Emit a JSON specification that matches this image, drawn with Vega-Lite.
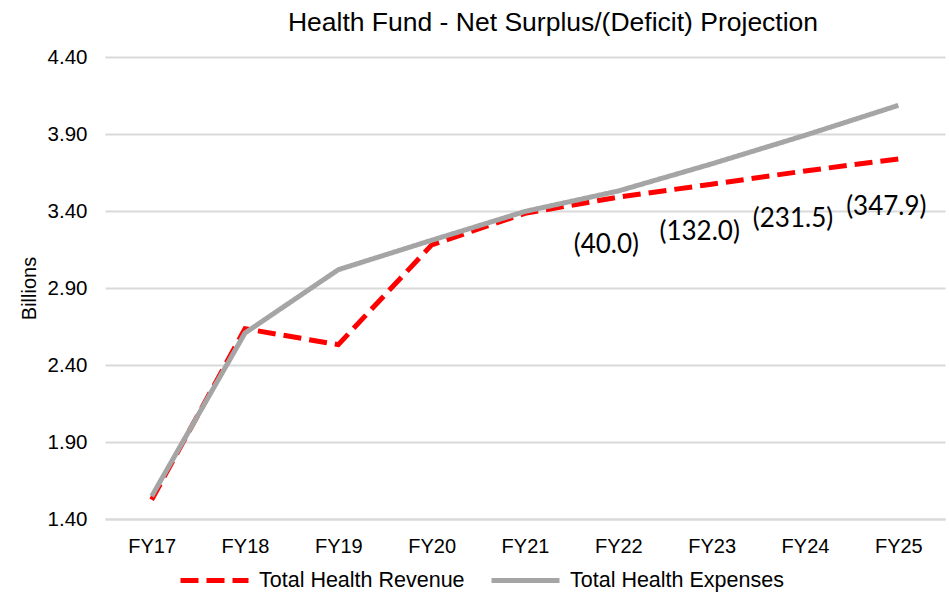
{
  "$schema": "https://vega.github.io/schema/vega-lite/v6.json",
  "width": 840,
  "height": 462,
  "autosize": {"type": "none"},
  "padding": {"left": 105, "top": 57, "right": 4, "bottom": 76},
  "background": "white",
  "config": {"font": "Liberation Sans", "view": {"stroke": null}},
  "title": {
    "text": "Health Fund - Net Surplus/(Deficit) Projection",
    "fontSize": 26.5,
    "fontWeight": "normal",
    "color": "#000000",
    "anchor": "middle",
    "frame": "group",
    "dx": 28,
    "baseline": "alphabetic",
    "offset": -10
  },
  "data": {
    "values": [
      {"year": "FY17", "Total Health Revenue": 1.525, "Total Health Expenses": 1.547, "net": null},
      {"year": "FY18", "Total Health Revenue": 2.636, "Total Health Expenses": 2.608, "net": null},
      {"year": "FY19", "Total Health Revenue": 2.532, "Total Health Expenses": 3.019, "net": null},
      {"year": "FY20", "Total Health Revenue": 3.18, "Total Health Expenses": 3.21, "net": null},
      {"year": "FY21", "Total Health Revenue": 3.385, "Total Health Expenses": 3.397, "net": null},
      {"year": "FY22", "Total Health Revenue": 3.49, "Total Health Expenses": 3.53, "net": -40.0},
      {"year": "FY23", "Total Health Revenue": 3.574, "Total Health Expenses": 3.706, "net": -132.0},
      {"year": "FY24", "Total Health Revenue": 3.66, "Total Health Expenses": 3.8915, "net": -231.5},
      {"year": "FY25", "Total Health Revenue": 3.738, "Total Health Expenses": 4.0859, "net": -347.9}
    ]
  },
  "encoding": {
    "x": {
      "field": "year",
      "type": "ordinal",
      "scale": {"type": "point", "padding": 0.5},
      "axis": {
        "title": null,
        "labelAngle": 0,
        "labelFontSize": 20,
        "labelColor": "#000000",
        "labelPadding": 17,
        "ticks": false,
        "tickSize": 0,
        "domain": true,
        "domainColor": "#D9D9D9",
        "domainWidth": 2,
        "grid": false
      }
    }
  },
  "layer": [
    {
      "transform": [
        {"fold": ["Total Health Revenue", "Total Health Expenses"], "as": ["series", "value"]}
      ],
      "layer": [
        {
          "transform": [{"filter": "datum.series === 'Total Health Revenue'"}],
          "mark": {"type": "line", "strokeWidth": 5, "strokeCap": "butt"},
          "encoding": {
            "y": {
              "field": "value",
              "type": "quantitative",
              "scale": {"domain": [1.4, 4.4], "zero": false, "nice": false},
              "axis": {
                "title": "Billions",
                "titleFontSize": 20,
                "titleFontWeight": "normal",
                "titleColor": "#000000",
                "titlePadding": 8,
                "values": [1.4, 1.9, 2.4, 2.9, 3.4, 3.9, 4.4],
                "format": ".2f",
                "labelFontSize": 20.5,
                "labelColor": "#000000",
                "labelPadding": 18,
                "ticks": false,
                "tickSize": 0,
                "domain": false,
                "grid": true,
                "gridColor": "#D9D9D9",
                "gridWidth": 2
              }
            },
            "color": {
              "field": "series",
              "type": "nominal",
              "scale": {"domain": ["Total Health Revenue", "Total Health Expenses"], "range": ["#FF0000", "#A5A5A5"]},
              "legend": {
                "title": null,
                "orient": "none",
                "direction": "horizontal",
                "legendX": 73,
                "legendY": 487,
                "symbolType": "stroke",
                "symbolSize": 4624,
                "symbolStrokeWidth": 5,
                "labelFontSize": 21.5,
                "labelLimit": 400,
                "labelColor": "#000000",
                "labelOffset": 8,
                "columnPadding": 16
              }
            },
            "strokeDash": {
              "field": "series",
              "type": "nominal",
              "scale": {"domain": ["Total Health Revenue", "Total Health Expenses"], "range": [[18, 8], [1, 0]]},
              "legend": null
            }
          }
        },
        {
          "transform": [{"filter": "datum.series === 'Total Health Expenses'"}],
          "mark": {"type": "line", "strokeWidth": 5, "strokeCap": "butt"},
          "encoding": {
            "y": {"field": "value", "type": "quantitative"},
            "color": {"field": "series", "type": "nominal"},
            "strokeDash": {"field": "series", "type": "nominal"}
          }
        }
      ]
    },
    {
      "transform": [{"filter": "isValid(datum.net)"}],
      "mark": {"type": "text", "font": "Lato", "fontSize": 26, "color": "#000000", "align": "center", "baseline": "middle", "dx": -12, "dy": 48},
      "encoding": {
        "y": {"field": "Total Health Revenue", "type": "quantitative"},
        "text": {"field": "net", "type": "quantitative", "format": "(.1f"}
      }
    }
  ]
}
